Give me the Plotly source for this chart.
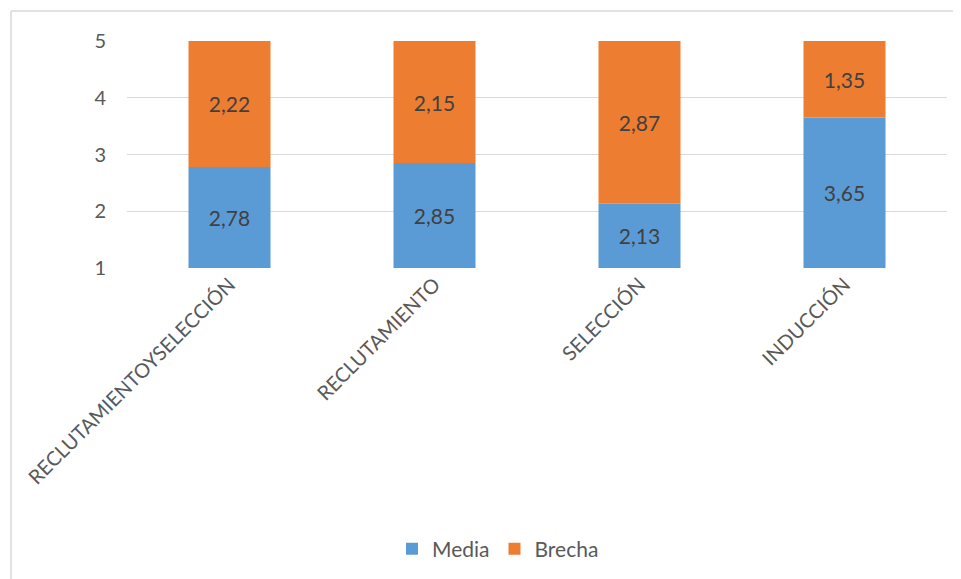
import plotly.graph_objects as go

categories = ["RECLUTAMIENTOYSELECCIÓN", "RECLUTAMIENTO", "SELECCIÓN", "INDUCCIÓN"]
media = [2.78, 2.85, 2.13, 3.65]
brecha = [2.22, 2.15, 2.87, 1.35]
axis_min = 1
tick_vals = [1, 2, 3, 4, 5]

def fmt(v):
    return f"{v:.2f}".replace(".", ",")

FONT = "Lato, Open Sans, sans-serif"

fig = go.Figure()
fig.add_trace(go.Bar(
    x=categories, y=[m - axis_min for m in media], base=[axis_min] * len(media),
    name="Media", marker=dict(color="#5B9BD5", line=dict(width=0)),
    text=[fmt(v) for v in media], textposition="inside", insidetextanchor="middle",
    textfont=dict(color="#404040", size=21, family=FONT),
))
fig.add_trace(go.Bar(
    x=categories, y=brecha, base=media,
    name="Brecha", marker=dict(color="#ED7D31", line=dict(width=0)),
    text=[fmt(v) for v in brecha], textposition="inside", insidetextanchor="middle",
    textfont=dict(color="#404040", size=21, family=FONT),
))

OFF = 8  # page body margin
W, H = 961 - OFF, 579 - OFF
# target plot area in page pixels: x 127..947, y 41..268
L = 127 - OFF
R = (OFF + W) - 947
T = 41 - OFF
B = (OFF + H) - 268
pw, ph = W - L - R, H - T - B

def px_x(px):
    return (px - OFF - L) / pw

def px_y(py):
    return (H - B - (py - OFF)) / ph

fig.update_layout(
    width=W, height=H,
    margin=dict(l=L, r=R, t=T, b=B, autoexpand=False),
    barmode="overlay", bargap=0.6,
    plot_bgcolor="white", paper_bgcolor="white",
    font=dict(family=FONT, color="#595959", size=20),
    xaxis=dict(tickangle=-45, showline=False, ticks="", showgrid=False,
               tickfont=dict(size=20, color="#595959")),
    yaxis=dict(range=[1, 5], tickvals=tick_vals, showgrid=True, gridcolor="#D9D9D9",
               gridwidth=1, zeroline=False, showline=False, ticks="",
               ticklabelstandoff=20, tickfont=dict(size=20, color="#595959")),
    legend=dict(orientation="h", x=px_x(498), xanchor="center", y=px_y(549), yanchor="middle",
                font=dict(size=21, color="#595959"), traceorder="normal"),
    showlegend=True,
    shapes=[
        dict(type="line", xref="paper", yref="paper", x0=px_x(11), x1=px_x(961),
             y0=px_y(11), y1=px_y(11), line=dict(color="#D9D9D9", width=1.5)),
        dict(type="line", xref="paper", yref="paper", x0=px_x(11), x1=px_x(11),
             y0=px_y(11), y1=px_y(579), line=dict(color="#D9D9D9", width=1.5)),
    ],
)

fig.write_html("out.html")
